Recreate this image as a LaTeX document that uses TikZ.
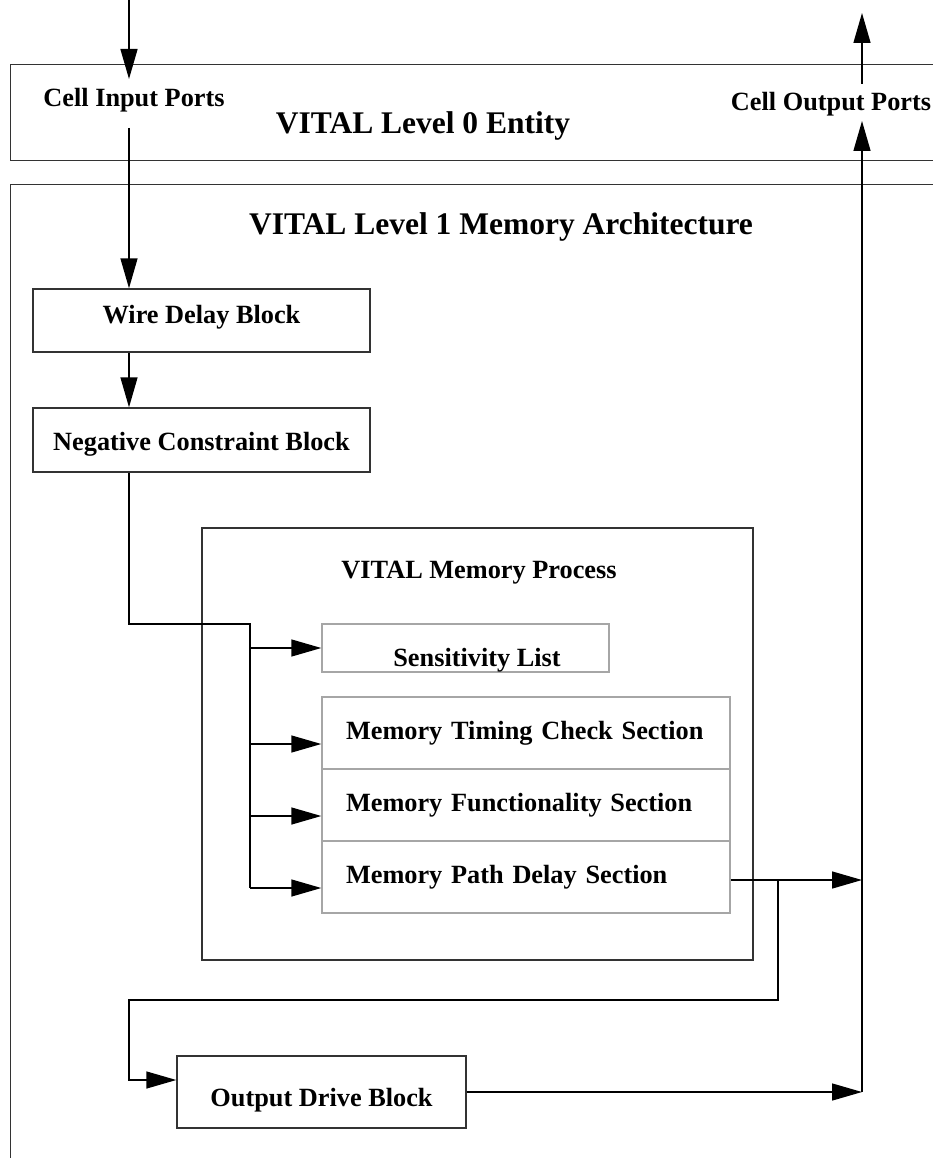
\documentclass[tikz,border=0pt]{standalone}
\usepackage{fontspec}
\setmainfont{Liberation Serif}
\usetikzlibrary{arrows.meta}
\usetikzlibrary{positioning}
\usetikzlibrary{calc}

\begin{document}
\begin{tikzpicture}[x=1pt, y=-1pt, line width=1.4pt,
    blk/.style={rectangle, draw=black!80, inner sep=0pt, font=\fontsize{26.3}{30}\selectfont\bfseries},
    sect/.style={rectangle, draw=black!35, inner sep=0pt, font=\fontsize{26.3}{30}\selectfont\bfseries},
    lbl/.style={inner sep=0pt, anchor=base, font=\fontsize{26.3}{30}\selectfont\bfseries},
    big/.style={inner sep=0pt, anchor=base, font=\fontsize{31.5}{36}\selectfont\bfseries},
    arr/.style={-{Triangle[length=30pt, width=17pt]}}]
        % Fix the page and cut off what runs past it
        \useasboundingbox (0,0) rectangle (933,1158);
        \clip (0,0) rectangle (933,1158);

        % Define the x of the input line, the bus and the output rail
        \def\inx{129}
        \def\busx{250}
        \def\railx{862}

        % Draw the two outer frames
        \node[blk, anchor=north west, minimum width=940pt, minimum height=96pt] (ent) at (10,64) {};
        \node[blk, anchor=north west, minimum width=940pt, minimum height=1000pt] (arch) at (10,184) {};
        \node[big] (entlbl) at (423,134) {VITAL Level 0 Entity};
        \node[big] (archlbl) at (501,235) {VITAL Level 1 Memory Architecture};
        \node[lbl] (inlbl) at (134,107) {Cell Input Ports};
        \node[lbl] (outlbl) at (831,111) {Cell Output Ports};

        % Draw the blocks on the input side
        \node[blk, minimum width=337pt, minimum height=63pt, text height=12pt, text depth=7pt] (wire) at (201.5,320.5) {Wire Delay Block};
        \node[blk, minimum width=337pt, minimum height=64pt, text height=20pt, text depth=0pt] (neg) at (201.5,440) {Negative Constraint Block};

        % Draw the memory process and its sections
        \node[blk, minimum width=551pt, minimum height=432pt] (proc) at (477.5,744) {};
        \node[lbl] (proclbl) at (479,578) {VITAL Memory Process};
        \node[sect, minimum width=287pt, minimum height=48pt] (sens) at (465.5,648) {};
        \node[lbl] (senslbl) at (477,666) {Sensitivity List};
        \node[sect, minimum width=408pt, minimum height=72pt, inner xsep=24pt, text width=360pt, align=left] (tim) at (526,733) {Memory Timing Check Section};
        \node[sect, minimum width=408pt, minimum height=72pt, inner xsep=24pt, text width=360pt, align=left] (fun) at (526,805) {Memory Functionality Section};
        \node[sect, minimum width=408pt, minimum height=72pt, inner xsep=24pt, text width=360pt, align=left] (pth) at (526,877) {Memory Path Delay Section};

        % Draw the output drive block
        \node[blk, minimum width=289pt, minimum height=72pt, text height=28pt, text depth=0pt] (drv) at (321.5,1092) {Output Drive Block};

        % Coordinates for the free ends and the bends
        \coordinate (intop) at (\inx,0);
        \coordinate (inend) at (\inx,79);
        \coordinate (instart) at (\inx,128);
        \coordinate (bus) at (\busx,624);
        \coordinate (rail) at (\railx,0);
        \coordinate (outbot) at (\railx,84);
        \coordinate (outtop) at (\railx,13);
        \coordinate (railtop) at (\railx,121);
        \coordinate (split) at (778,880);
        \coordinate (loop) at (\inx,1000);
        \coordinate (pout) at ($(pth.east)+(0,3)$);
        \coordinate (drvin) at ($(drv.west)+(0,-12)$);

        % Input side
        \draw[arr] (intop) -- (inend);
        \draw[arr] (instart) -- (instart |- wire.north);
        \draw[arr] (wire.south -| instart) -- (neg.north -| instart);
        \draw (neg.south -| instart) |- (bus) -- (\busx,888);

        % Arrows into the process
        \draw[arr] (sens.west -| bus) -- (sens.west);
        \foreach \s in {tim, fun, pth}
        {
          \coordinate (\s in) at ($(\s.west)+(0,11)$);
          \draw[arr] (\s in -| bus) -- (\s in);
        }

        % Output side
        \draw[arr] (pout) -- (pout -| rail);
        \draw[arr] (split) |- (loop) |- (drvin);
        \draw[arr] (drv.east) -- (drv.east -| rail);
        \draw[arr] (drv.east -| rail) -- (railtop);
        \draw[arr] (outbot) -- (outtop);
      \end{tikzpicture}
\end{document}
